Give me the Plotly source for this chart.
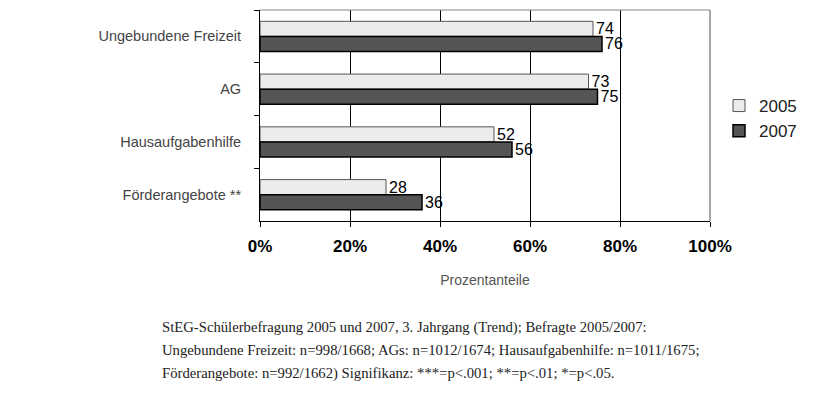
import plotly.graph_objects as go

# Daten
kategorien = ['Ungebundene Freizeit', 'AG', 'Hausaufgabenhilfe', 'Förderangebote **']
werte_2005 = [74, 73, 52, 28]
werte_2007 = [76, 75, 56, 36]

tick_werte = [0, 20, 40, 60, 80, 100]
tick_texte = ['0%', '20%', '40%', '60%', '80%', '100%']

fussnote = [
    'StEG-Schülerbefragung 2005 und 2007, 3. Jahrgang (Trend); Befragte 2005/2007:',
    'Ungebundene Freizeit: n=998/1668; AGs: n=1012/1674; Hausaufgabenhilfe: n=1011/1675;',
    'Förderangebote: n=992/1662) Signifikanz: ***=p<.001; **=p<.01; *=p<.05.',
]

# die Seite hat 8px Rand im body -> alles um 8px verschieben
OFF = 8
W, H = 832, 403
L, T = 260 - OFF, 10 - OFF
R, B = W - (710 - OFF), H - (221 - OFF)
pw, ph = W - L - R, H - T - B

SANS = 'Liberation Sans'


def px_x(x):
    return (x - OFF - L) / pw


def px_y(y):
    return (H - B - (y - OFF)) / ph


fig = go.Figure()
fig.add_trace(go.Bar(
    y=kategorien, x=werte_2005, name='2005', orientation='h',
    marker=dict(color='#ececec', line=dict(color='#555555', width=1)),
    text=werte_2005, textposition='outside', cliponaxis=False, constraintext='none',
    textfont=dict(family=SANS, size=16, color='black'),
))
fig.add_trace(go.Bar(
    y=kategorien, x=werte_2007, name='2007', orientation='h',
    marker=dict(color='#555555', line=dict(color='black', width=1.5)),
    text=werte_2007, textposition='outside', cliponaxis=False, constraintext='none',
    textfont=dict(family=SANS, size=16, color='black'),
))

fig.update_layout(
    width=W, height=H,
    margin=dict(l=L, r=R, t=T, b=B, pad=0),
    plot_bgcolor='white', paper_bgcolor='white',
    barmode='group', bargap=0.43, bargroupgap=0,
    font=dict(family=SANS, color='black'),
    legend=dict(x=px_x(719), y=px_y(88), xanchor='left', yanchor='top',
                font=dict(family=SANS, size=17, color='#222222'), traceorder='normal',
                itemwidth=30, bgcolor='rgba(0,0,0,0)'),
    showlegend=True,
)

fig.update_xaxes(
    range=[0, 100], tickvals=tick_werte, ticktext=tick_texte,
    tickfont=dict(family=SANS, size=17, color='black', weight='bold'),
    ticklabelstandoff=5,
    showgrid=True, gridcolor='black', gridwidth=1,
    showline=True, linecolor='black', linewidth=1,
    ticks='outside', ticklen=5, tickcolor='black',
    zeroline=False,
    title=dict(text='Prozentanteile', font=dict(family=SANS, size=14, color='#555555'), standoff=19),
)
fig.update_yaxes(
    autorange='reversed', showgrid=False,
    showline=True, linecolor='black', linewidth=1,
    ticks='outside', tickson='boundaries', ticklen=5, tickcolor='black',
    tickfont=dict(family=SANS, size=14.5, color='#444444'),
    ticklabelstandoff=15,
)

# Rahmen oben und rechts
fig.add_shape(type='line', xref='paper', yref='paper', x0=0, x1=1, y0=1, y1=1,
              line=dict(color='#888888', width=1))
fig.add_shape(type='line', xref='paper', yref='paper', x0=1, x1=1, y0=0, y1=1,
              line=dict(color='#888888', width=1.5))

for i, zeile in enumerate(fussnote):
    fig.add_annotation(
        text=zeile, xref='paper', yref='paper',
        x=px_x(160), y=px_y(327 + i * 23),
        xanchor='left', yanchor='middle', showarrow=False,
        font=dict(family='Liberation Serif, serif', size=14.7, color='#222222'),
    )

fig.write_html('out.html')
